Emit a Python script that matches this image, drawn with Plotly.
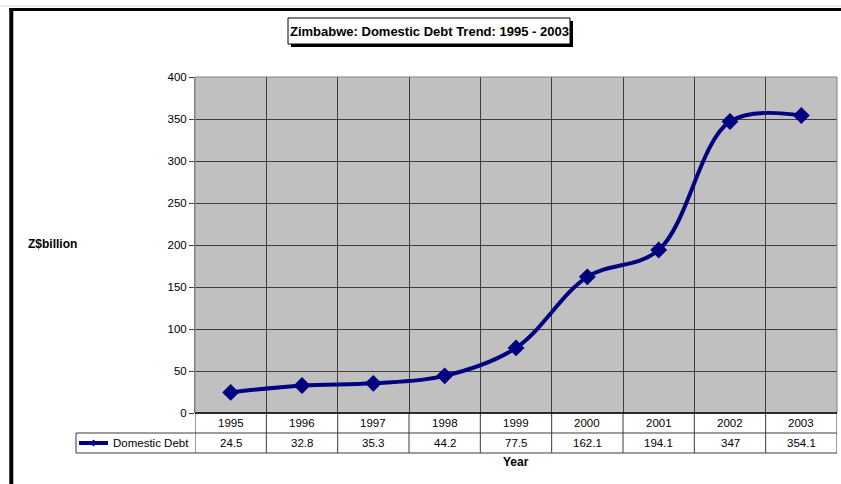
import plotly.graph_objects as go

# ---- data ----
years = [1995, 1996, 1997, 1998, 1999, 2000, 2001, 2002, 2003]
domestic_debt = [24.5, 32.8, 35.3, 44.2, 77.5, 162.1, 194.1, 347, 354.1]
series_name = "Domestic Debt"
chart_title = "Zimbabwe: Domestic Debt Trend: 1995 - 2003"
y_title = "Z$billion"
x_title = "Year"

# ---- layout geometry (pixels) ----
W, H = 841, 484
L, R, T, B = 195, 4, 77, 71
PW = W - L - R
PH = H - T - B
FONT = "Liberation Sans, Arial, sans-serif"
NAVY = "#000080"
GRID = "#3c3c3c"
TXT = 11.5


def px(xp):
    return (xp - L) / PW


def py(yp):
    return (H - B - yp) / PH


row1_bot = py(433)
row2_bot = py(453)
row1_mid = py(423)
row2_mid = py(443)

fig = go.Figure()
fig.add_trace(go.Scatter(
    x=years, y=domestic_debt, name=series_name,
    mode="lines+markers",
    line=dict(color=NAVY, width=4, shape="spline", smoothing=1.0),
    marker=dict(symbol="diamond", size=13, color=NAVY),
    showlegend=False,
))

bounds = [y - 0.5 for y in years] + [years[-1] + 0.5]

shapes = []
# outer frame (thick black top and left)
shapes.append(dict(type="line", xref="paper", yref="paper", x0=px(0), x1=px(W), y0=py(6), y1=py(6),
                   line=dict(color="#d8d8d8", width=1)))
shapes.append(dict(type="line", xref="paper", yref="paper", x0=px(9.5), x1=px(W), y0=py(9.5), y1=py(9.5),
                   line=dict(color="black", width=3)))
shapes.append(dict(type="line", xref="paper", yref="paper", x0=px(11.3), x1=px(11.3), y0=py(8), y1=py(H),
                   line=dict(color="black", width=4)))
# title box with shadow
shapes.append(dict(type="rect", xref="paper", yref="paper", x0=px(291), x1=px(573), y0=py(21), y1=py(47),
                   fillcolor="black", line=dict(width=0)))
shapes.append(dict(type="rect", xref="paper", yref="paper", x0=px(288), x1=px(570), y0=py(18), y1=py(44),
                   fillcolor="white", line=dict(color="black", width=1)))
# plot-area border
shapes.append(dict(type="rect", xref="paper", yref="paper", x0=0, x1=1, y0=0, y1=1,
                   line=dict(color="#808080", width=1), layer="above"))
# table: vertical lines
for bx in bounds:
    shapes.append(dict(type="line", xref="x", yref="paper", x0=bx, x1=bx, y0=0, y1=row2_bot,
                       line=dict(color=GRID, width=1)))
# table: horizontal lines
shapes.append(dict(type="line", xref="paper", yref="paper", x0=0, x1=1, y0=0, y1=0,
                   line=dict(color="black", width=1.5)))
shapes.append(dict(type="line", xref="paper", yref="paper", x0=px(76), x1=1, y0=row1_bot, y1=row1_bot,
                   line=dict(color=GRID, width=1)))
shapes.append(dict(type="line", xref="paper", yref="paper", x0=px(76), x1=1, y0=row2_bot, y1=row2_bot,
                   line=dict(color=GRID, width=1)))
shapes.append(dict(type="line", xref="paper", yref="paper", x0=px(76), x1=px(76), y0=row1_bot, y1=row2_bot,
                   line=dict(color=GRID, width=1)))
# legend key in the table
shapes.append(dict(type="line", xref="paper", yref="paper", x0=px(79), x1=px(108), y0=row2_mid, y1=row2_mid,
                   line=dict(color=NAVY, width=4)))
dk = 3.5
cx, cy = 93.5, 443
shapes.append(dict(type="path", xref="paper", yref="paper",
                   path=(f"M {px(cx - dk)} {py(cy)} L {px(cx)} {py(cy - dk)} "
                         f"L {px(cx + dk)} {py(cy)} L {px(cx)} {py(cy + dk)} Z"),
                   fillcolor=NAVY, line=dict(color=NAVY, width=0)))

annotations = []
annotations.append(dict(text="<b>" + chart_title + "</b>", xref="paper", yref="paper", x=px(429), y=py(31),
                        showarrow=False, font=dict(family=FONT, size=13, color="black"),
                        xanchor="center", yanchor="middle"))
annotations.append(dict(text="<b>" + y_title + "</b>", xref="paper", yref="paper", x=px(26), y=py(244),
                        showarrow=False, font=dict(family=FONT, size=12, color="black"),
                        xanchor="left", yanchor="middle"))
annotations.append(dict(text="<b>" + x_title + "</b>", xref="paper", yref="paper", x=px(516), y=py(462),
                        showarrow=False, font=dict(family=FONT, size=12, color="black"),
                        xanchor="center", yanchor="middle"))
annotations.append(dict(text=series_name, xref="paper", yref="paper", x=px(111), y=row2_mid,
                        showarrow=False, font=dict(family=FONT, size=TXT, color="black"),
                        xanchor="left", yanchor="middle"))
for yr, v in zip(years, domestic_debt):
    annotations.append(dict(text=str(yr), xref="x", yref="paper", x=yr, y=row1_mid, showarrow=False,
                            font=dict(family=FONT, size=TXT, color="black"), yanchor="middle"))
    annotations.append(dict(text=f"{v:g}", xref="x", yref="paper", x=yr, y=row2_mid, showarrow=False,
                            font=dict(family=FONT, size=TXT, color="black"), yanchor="middle"))

fig.update_layout(
    width=W, height=H,
    margin=dict(l=L, r=R, t=T, b=B, pad=0),
    paper_bgcolor="white",
    plot_bgcolor="#c0c0c0",
    font=dict(family=FONT, size=TXT, color="black"),
    shapes=shapes,
    annotations=annotations,
    showlegend=False,
    xaxis=dict(range=[bounds[0], bounds[-1]], tickvals=bounds[1:-1], showticklabels=False,
               ticks="", showgrid=True, gridcolor=GRID, gridwidth=1, zeroline=False,
               showline=False, fixedrange=True),
    yaxis=dict(range=[0, 400], dtick=50, tick0=0, ticks="outside", ticklen=5, tickcolor=GRID,
               showgrid=True, gridcolor=GRID, gridwidth=1, zeroline=False, showline=True,
               linecolor="#808080", tickfont=dict(family=FONT, size=TXT, color="black"),
               fixedrange=True),
)

fig.write_html("out.html")
